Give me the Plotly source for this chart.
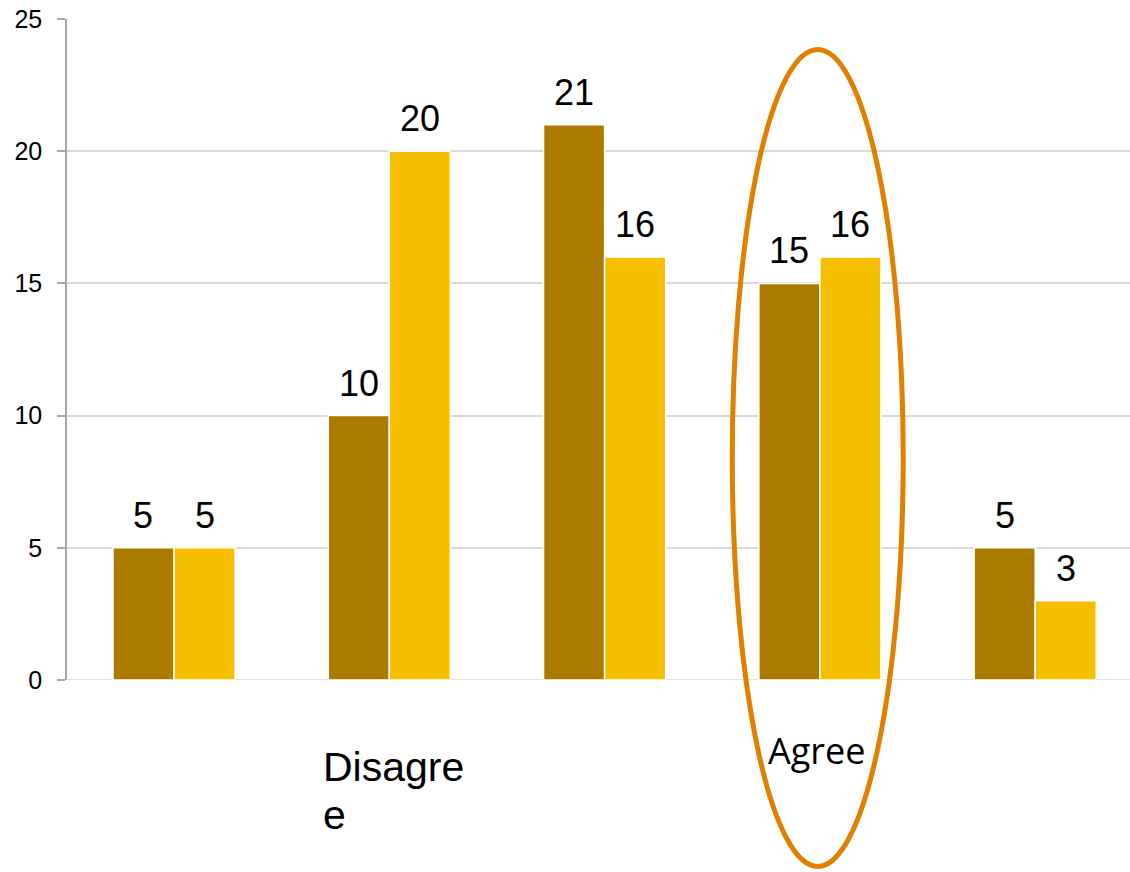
import plotly.graph_objects as go

categories = [0, 1, 2, 3, 4]
category_labels = ["", "Disagre<br>e", "", "Agree", ""]
series_a = [5, 10, 21, 15, 5]
series_b = [5, 20, 16, 16, 3]
y_ticks = [0, 5, 10, 15, 20, 25]

DARK = "#AB7B00"
LIGHT = "#F5BF00"
ORANGE = "#E08000"

W, H = 1130, 872
ML, MR, MT, MB = 67, 0, 19, 192
plot_w = W - ML - MR
cat_px = 215.3
x_min = -0.497
x_max = x_min + plot_w / cat_px
bargap = 0.433
bar_w = (1 - bargap) / 2

fig = go.Figure()
fig.add_trace(go.Bar(x=categories, y=series_a, marker=dict(color=DARK, line=dict(color="white", width=1.5)),
                     name="A", showlegend=False, hoverinfo="skip"))
fig.add_trace(go.Bar(x=categories, y=series_b, marker=dict(color=LIGHT, line=dict(color="white", width=1.5)),
                     name="B", showlegend=False, hoverinfo="skip"))

annotations = []
num_font = dict(family="Liberation Sans Narrow, Arial Narrow, Liberation Sans, Arial", size=36, color="#000000")
for i, (a, b) in enumerate(zip(series_a, series_b)):
    annotations.append(dict(x=categories[i] - bar_w / 2, y=a, xref="x", yref="y", text=str(a),
                            showarrow=False, yanchor="bottom", yshift=10, font=num_font))
    annotations.append(dict(x=categories[i] + bar_w / 2, y=b, xref="x", yref="y", text=str(b),
                            showarrow=False, yanchor="bottom", yshift=10, font=num_font))

# category labels
for i, lab in enumerate(category_labels):
    if not lab:
        continue
    if "<br>" in lab:
        first, second = lab.split("<br>")
        annotations.append(dict(x=categories[i], y=0, xref="x", yref="y", text=first,
                                showarrow=False, xanchor="left", yanchor="top", yshift=-62, xshift=-68,
                                font=dict(family="Liberation Sans, Arial", size=41, color="#000000")))
        annotations.append(dict(x=categories[i], y=0, xref="x", yref="y", text=second,
                                showarrow=False, xanchor="left", yanchor="top", yshift=-110, xshift=-68,
                                font=dict(family="Liberation Sans, Arial", size=41, color="#000000")))
    else:
        annotations.append(dict(x=categories[i], y=0, xref="x", yref="y", text=lab,
                                showarrow=False, yanchor="top", yshift=-44, xshift=-3,
                                font=dict(family="Open Sans, Noto Sans", size=36, color="#000000")))

# ellipse highlighting "Agree"
agree_idx = category_labels.index("Agree")
span = x_max - x_min
cx = (categories[agree_idx] - 0.01 - x_min) / span
hw = 0.397 / span
fig.add_shape(type="circle", xref="x domain", yref="y domain",
              x0=cx - hw, x1=cx + hw, y0=-0.282, y1=0.954,
              line=dict(color=ORANGE, width=5), fillcolor="rgba(0,0,0,0)", layer="above")

fig.update_layout(
    width=W, height=H,
    margin=dict(l=ML, r=MR, t=MT, b=MB, pad=0),
    paper_bgcolor="white", plot_bgcolor="white",
    barmode="group", bargap=bargap, bargroupgap=0.0,
    annotations=annotations,
    xaxis=dict(range=[x_min, x_max], showticklabels=False, showgrid=False, zeroline=False,
               showline=False, ticks=""),
    yaxis=dict(range=[0, 25], tickvals=y_ticks, showgrid=True, gridcolor="#D9D9D9", gridwidth=1.5,
               zeroline=False, showline=True, linecolor="#A6A6A6", linewidth=1.5,
               ticks="outside", ticklen=8, tickcolor="#A6A6A6", tickwidth=1.5,
               ticklabelstandoff=10,
               tickfont=dict(family="Liberation Sans, Arial", size=25, color="#000000")),
    font=dict(family="Liberation Sans, Arial"),
)
# zero gridline
fig.add_hline(y=0, line=dict(color="#D9D9D9", width=1.5), layer="below")

fig.write_html("out.html", config={"displayModeBar": False})
